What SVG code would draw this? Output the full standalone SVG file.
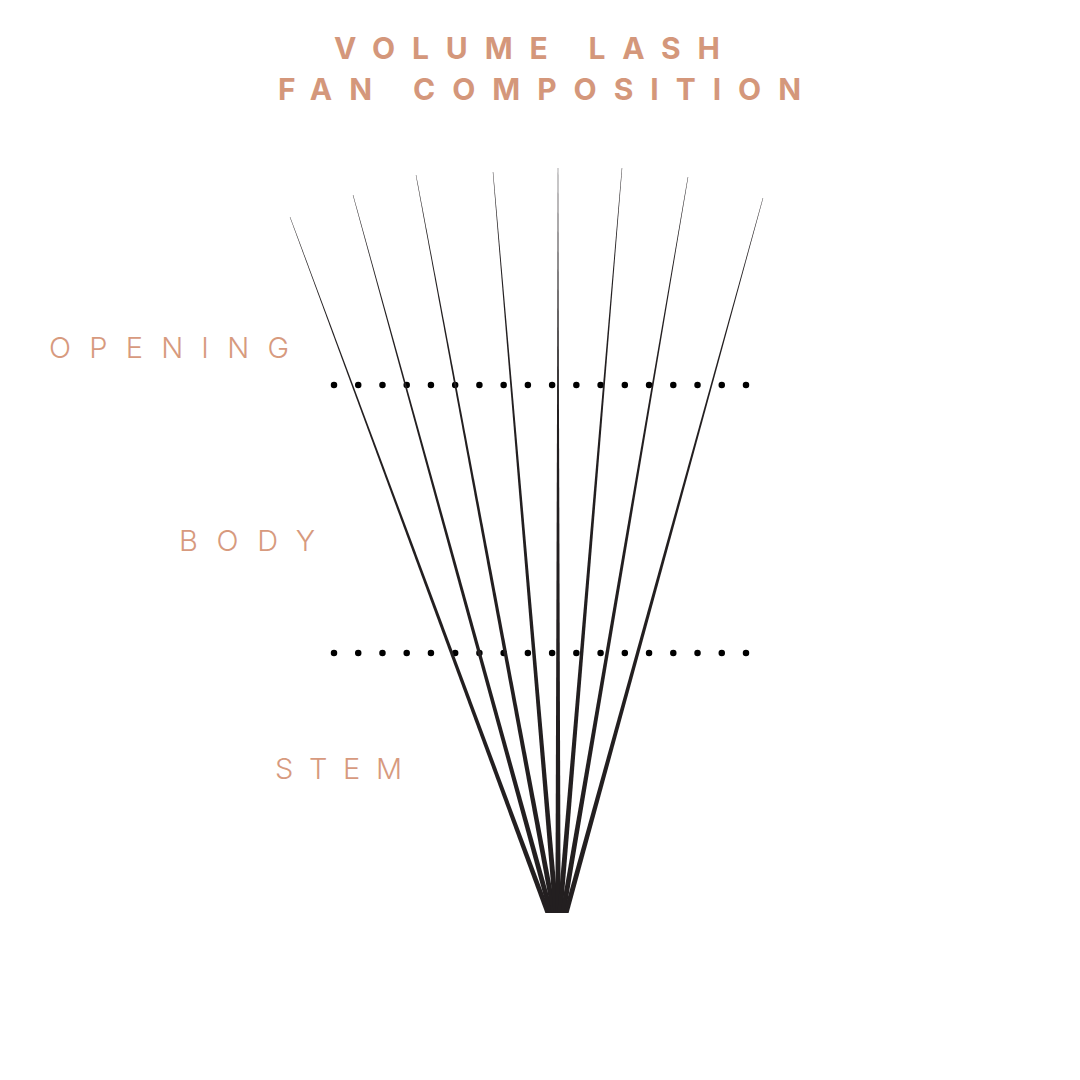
<svg xmlns="http://www.w3.org/2000/svg" width="1080" height="1080" viewBox="0 0 1080 1080">
<style>
.title{font-family:"Inter","Liberation Sans",sans-serif;font-weight:700;font-size:30px;fill:#d4977b}
.label{font-family:"Inter","Lato","Liberation Sans",sans-serif;font-weight:300;font-size:29px;fill:#d79a7e}
.lash{fill:#231f20}
.dots{stroke:#000;stroke-width:6.5;stroke-linecap:round;stroke-dasharray:0 24.235;fill:none}
</style>
<rect width="1080" height="1080" fill="#fff"/>
<g id="title">
<text class="title" x="334" y="59" textLength="386" lengthAdjust="spacing">VOLUME LASH</text>
<text class="title" x="278" y="100" textLength="523" lengthAdjust="spacing">FAN COMPOSITION</text>
</g>
<g id="label-opening"><text class="label" x="49" y="358" textLength="240" lengthAdjust="spacing">OPENING</text></g>
<g id="label-body"><text class="label" x="179" y="551" textLength="136" lengthAdjust="spacing">BODY</text></g>
<g id="label-stem"><text class="label" x="275" y="779" textLength="127" lengthAdjust="spacing">STEM</text></g>
<g id="guides">
<line class="dots" x1="334" y1="385" x2="747" y2="385"/>
<line class="dots" x1="334" y1="653" x2="747" y2="653"/>
</g>
<g id="lashes">
<polygon class="lash" points="289.8,217 290.2,217 550.6,913 545.4,913"/>
<polygon class="lash" points="352.8,195 353.2,195 553.6,913 548.4,913"/>
<polygon class="lash" points="415.8,175 416.2,175 556.6,913 551.4,913"/>
<polygon class="lash" points="492.8,172 493.2,172 558.6,913 553.4,913"/>
<polygon class="lash" points="557.8,168 558.2,168 560.6,913 555.4,913"/>
<polygon class="lash" points="621.8,168 622.2,168 562.6,913 557.4,913"/>
<polygon class="lash" points="687.8,177 688.2,177 565.6,913 560.4,913"/>
<polygon class="lash" points="762.8,198 763.2,198 568.6,913 563.4,913"/>
</g>
</svg>
